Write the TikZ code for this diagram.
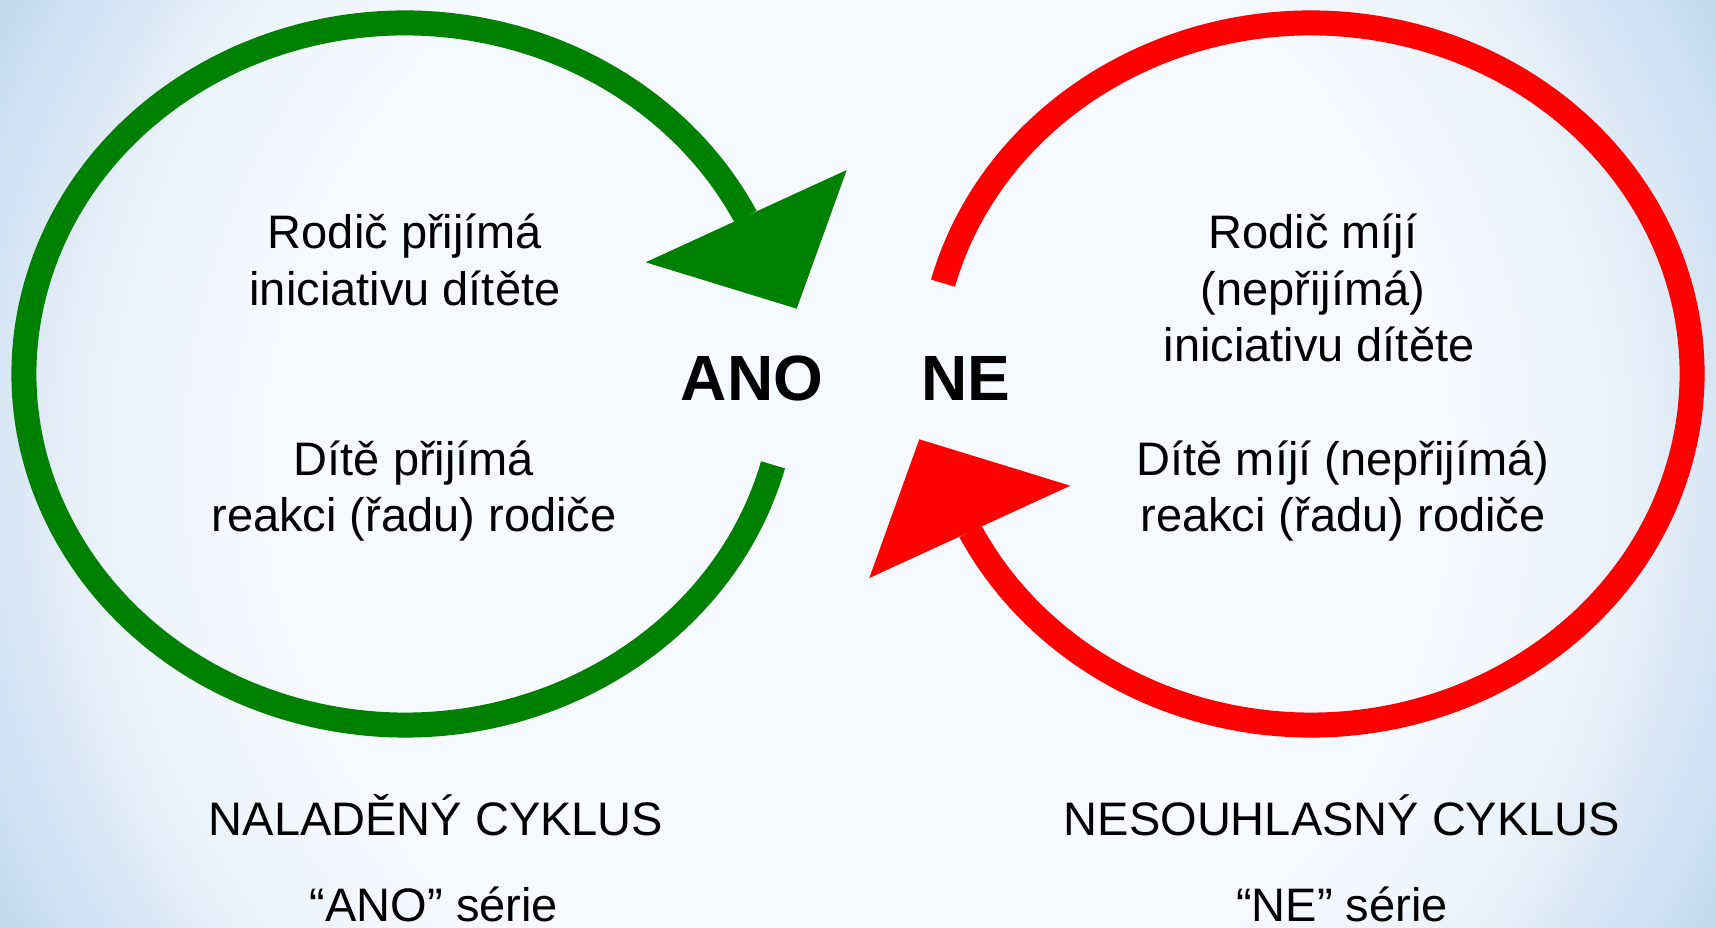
\documentclass[tikz,border=0pt]{standalone}
\usepackage{fontspec}
\setmainfont{Liberation Sans}
\usetikzlibrary{calc}
\definecolor{bgA}{HTML}{F6F9FD}
\definecolor{bgB}{HTML}{F3F7FC}
\definecolor{bgC}{HTML}{EBF2FA}
\definecolor{bgD}{HTML}{D8E6F4}
\definecolor{bgE}{HTML}{C4D9EF}
\definecolor{cycgreen}{HTML}{008000}
\definecolor{cycred}{HTML}{FF0000}
% the shading's 25bp radius is mapped onto the radius of the shaded circle
\pgfdeclareradialshading{bgshade}{\pgfpoint{0bp}{0bp}}{color(0bp)=(bgA); color(15bp)=(bgA); color(17bp)=(bgB); color(19.5bp)=(bgC); color(22bp)=(bgD); color(25bp)=(bgE); color(50bp)=(bgE)}
\tikzset{
  txt/.style={anchor=base, inner sep=0pt, font=\fontsize{47}{57}\selectfont},
  bigtxt/.style={anchor=base, inner sep=0pt, font=\fontsize{64}{72}\selectfont\bfseries},
  cycline/.style={line width=25pt},
}
\begin{document}
\begin{tikzpicture}[x=1pt,y=1pt]
\useasboundingbox (0,0) rectangle (1716,928);
\begin{scope}
  \clip (0,0) rectangle (1716,928);
  \shade[shading=bgshade] (858,464) circle (975);
\end{scope}

% green cycle
\coordinate (gc) at (405,554);
\coordinate (gstart) at ($(gc)+(-15:381 and 351)$);
\draw[cycline, cycgreen] (gstart) arc[start angle=-15, end angle=-333.4, x radius=381, y radius=351] coordinate (gend);
\fill[cycgreen] (645.7,665.7) -- (846.7,758) -- (796.7,619.3) -- cycle;

% red cycle
\coordinate (rc) at (1311,554);
\coordinate (rstart) at ($(rc)+(165:381 and 351)$);
\draw[cycline, cycred] (rstart) arc[start angle=165, end angle=-153.4, x radius=381, y radius=351] coordinate (rend);
\fill[cycred] (1070.3,442.3) -- (869.3,350) -- (919.3,488.7) -- cycle;

% texts left
\node[txt] (l1) at (405,679) {Rodič přijímá};
\node[txt] (l2) at (405,622.5) {iniciativu dítěte};
\node[txt] (l3) at (414,452) {Dítě přijímá};
\node[txt] (l4) at (414,396) {reakci (řadu) rodiče};

% texts right
\node[txt] (r1) at (1313,679) {Rodič míjí};
\node[txt] (r2) at (1313,622.5) {(nepřijímá)};
\node[txt] (r3) at (1319,566) {iniciativu dítěte};
\node[txt] (r4) at (1343,452) {Dítě míjí (nepřijímá)};
\node[txt] (r5) at (1343,396) {reakci (řadu) rodiče};

% middle
\node[bigtxt] (ano) at (752,527.3) {ANO};
\node[bigtxt] (ne) at (966,527.3) {NE};

% bottom labels
\node[txt] (b1) at (436,92) {NALADĚNÝ CYKLUS};
\node[txt] (b2) at (434,6) {“ANO” série};
\node[txt] (b3) at (1342,92) {NESOUHLASNÝ CYKLUS};
\node[txt] (b4) at (1342,6) {“NE” série};
\end{tikzpicture}
\end{document}
